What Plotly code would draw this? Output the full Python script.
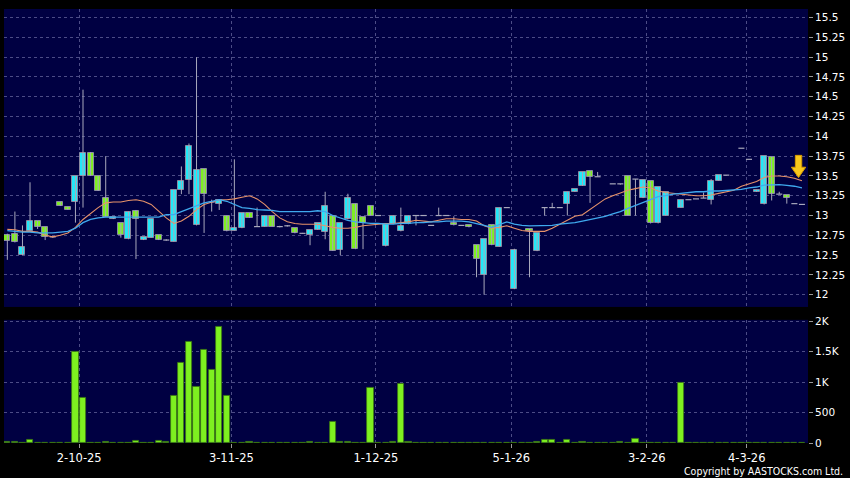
import plotly.graph_objects as go

# ---------------- data ----------------
N = 106
opens = [12.75,12.77,12.50,12.81,12.93,12.86,12.73,13.175,13.11,13.175,
         13.50,13.79,13.50,13.22,12.955,12.90,12.70,13.06,12.69,12.72,
         12.75,12.69,12.67,13.325,13.45,12.875,13.59,13.17,13.14,13.00,
         12.81,12.84,13.03,12.86,12.86,13.00,12.86,12.87,12.84,12.775,
         12.76,12.82,12.79,13.00,12.56,12.95,13.15,12.98,13.125,13.00,
         12.61,12.89,12.80,12.89,13.00,13.00,12.875,13.00,13.00,12.90,
         12.875,12.875,12.625,12.25,12.875,12.605,13.10,12.07,None,12.83,
         12.55,13.10,13.10,13.10,13.15,13.30,13.375,13.56,13.49,None,
         13.40,13.40,13.50,13.46,13.22,13.43,12.90,13.00,None,13.10,
         13.20,13.21,13.22,13.20,13.44,13.51,None,13.85,13.71,13.30,
         13.14,13.74,13.27,13.26,13.15,13.14]
closes = [12.68,12.66,12.60,12.93,12.86,12.73,12.73,13.12,13.075,13.50,
          13.79,13.50,13.31,12.98,12.98,12.75,13.05,12.95,12.73,12.95,
          12.69,12.69,13.325,13.44,13.875,13.575,13.27,13.17,13.19,12.80,
          12.84,13.03,12.97,12.86,13.00,12.86,12.86,12.87,12.775,12.775,
          12.82,12.90,13.125,12.555,12.90,13.22,12.575,12.90,13.00,13.00,
          12.89,13.00,12.87,13.00,13.00,13.00,12.875,13.00,13.00,12.875,
          12.875,12.85,12.45,12.70,12.625,13.10,13.10,12.56,None,12.80,
          12.78,13.10,13.10,13.10,13.30,13.33,13.55,13.49,13.49,None,
          13.40,13.40,13.00,13.46,13.45,12.90,13.36,13.30,None,13.20,
          13.20,13.21,13.22,13.44,13.51,13.51,None,13.85,13.71,13.325,
          13.75,13.27,13.27,13.22,13.15,13.14]
highs = [12.77,13.05,12.875,13.42,12.93,12.86,12.74,13.175,13.11,13.50,
         14.59,13.80,13.50,13.75,12.98,12.90,13.05,13.07,12.73,12.95,
         12.75,12.70,13.325,13.62,13.91,15.00,13.59,13.20,13.19,13.00,
         13.71,13.03,13.03,13.10,13.00,13.00,12.87,12.88,12.84,12.78,
         12.82,12.90,13.30,13.00,12.90,13.275,13.15,12.98,13.125,13.00,
         12.89,13.00,13.10,13.00,13.00,13.00,12.88,13.10,13.00,12.99,
         12.88,12.875,12.625,12.70,12.875,13.10,13.10,12.58,None,12.83,
         12.78,13.10,13.16,13.10,13.30,13.33,13.55,13.56,13.55,None,
         13.40,13.40,13.50,13.46,13.45,13.43,13.36,13.30,None,13.20,
         13.20,13.21,13.29,13.46,13.51,13.51,None,13.85,13.71,13.325,
         13.75,13.74,13.30,13.26,13.15,13.14]
lows = [12.44,12.66,12.50,12.81,12.83,12.69,12.72,13.12,13.075,12.91,
        13.10,13.50,13.31,12.98,12.955,12.72,12.70,12.45,12.69,12.72,
        12.69,12.68,12.67,13.27,13.27,12.875,12.78,13.05,13.07,12.80,
        12.81,12.84,12.97,12.86,12.86,12.86,12.85,12.86,12.775,12.77,
        12.625,12.82,12.70,12.555,12.50,12.95,12.575,12.575,13.00,13.00,
        12.61,12.89,12.80,12.89,12.875,13.00,12.87,13.00,13.00,12.875,
        12.87,12.85,12.22,12.00,12.625,12.605,13.10,12.07,None,12.22,
        12.55,13.00,13.10,13.10,13.00,13.30,13.375,13.16,13.49,None,
        13.40,13.39,13.00,13.00,13.22,12.90,12.90,13.00,None,13.10,
        13.20,13.21,13.22,13.14,13.44,13.51,None,13.85,13.71,13.30,
        13.14,13.19,13.27,13.15,13.15,13.14]
volumes = [15,15,10,48,0,0,0,0,0,1500,
           747,10,0,15,0,0,10,38,0,0,
           38,15,780,1312,1667,920,1522,1204,1909,780,
           0,0,15,0,0,0,0,0,0,0,
           15,0,0,350,27,20,0,0,908,0,
           0,20,968,15,0,0,8,0,0,8,
           0,0,8,0,0,0,0,0,0,0,
           15,60,48,0,48,0,15,0,0,0,
           0,15,0,70,0,0,0,10,0,995,
           0,0,0,5,0,0,0,0,5,0,
           0,0,5,0,0,0]
ma_short = [12.825,12.82,12.80,12.80,12.79,12.75,12.73,12.75,12.78,12.85,
            12.95,13.03,13.10,13.16,13.17,13.17,13.19,13.20,13.18,13.14,
            13.05,12.97,12.90,12.93,12.99,13.075,13.14,13.17,13.20,13.20,
            13.21,13.23,13.25,13.21,13.14,13.05,12.97,12.92,12.90,12.89,
            12.89,12.89,12.87,12.85,12.84,12.84,12.85,12.87,12.88,12.89,
            12.90,12.90,12.91,12.92,12.94,12.93,12.92,12.94,12.96,12.96,
            12.95,12.95,12.93,12.87,12.84,12.85,12.87,12.84,12.81,12.80,
            12.80,12.80,12.84,12.89,12.94,12.99,13.01,13.075,13.15,13.21,
            13.25,13.29,13.32,13.34,13.36,13.35,13.31,13.29,13.28,13.27,
            13.26,13.25,13.25,13.26,13.28,13.30,13.32,13.37,13.40,13.43,
            13.48,13.50,13.50,13.49,13.47,13.44]
ma_long = [12.81,12.80,12.79,12.79,12.78,12.78,12.78,12.79,12.80,12.84,
           12.91,12.95,12.97,12.98,12.98,12.98,12.98,12.98,12.985,12.985,
           12.98,13.01,13.01,13.05,13.09,13.13,13.16,13.18,13.20,13.18,
           13.14,13.10,13.09,13.075,13.07,13.065,13.05,13.05,13.05,13.05,
           13.05,13.06,13.05,13.00,12.97,12.94,12.92,12.91,12.90,12.90,
           12.89,12.89,12.90,12.90,12.91,12.91,12.92,12.92,12.93,12.93,
           12.93,12.92,12.90,12.875,12.85,12.89,12.92,12.89,12.875,12.87,
           12.87,12.875,12.875,12.89,12.90,12.91,12.93,12.95,12.97,12.99,
           13.02,13.05,13.09,13.13,13.17,13.21,13.24,13.25,13.27,13.28,
           13.29,13.30,13.30,13.31,13.31,13.315,13.32,13.33,13.35,13.36,
           13.385,13.39,13.39,13.38,13.37,13.35]
date_ticks = [9.5, 29.6, 48.7, 66.6, 84.5, 97.7]
date_labels = ["2-10-25", "3-11-25", "1-12-25", "5-1-26", "3-2-26", "4-3-26"]
price_ticks = [12 + 0.25 * k for k in range(15)]
price_labels = ["12", "12.25", "12.5", "12.75", "13", "13.25", "13.5", "13.75",
                "14", "14.25", "14.5", "14.75", "15", "15.25", "15.5"]
vol_ticks = [0, 500, 1000, 1500, 2000]
vol_labels = ["0", "500", "1K", "1.5K", "2K"]

# ---------------- styling ----------------
BG = "#000000"
PLOT_BG = "#000042"
GRID = "#4c4c86"
CYAN = "#22e8f8"
GREEN = "#7ef020"
EDGE = "#8a8aa0"
WICK = "#a8a8bc"
FONT = "DejaVu Sans"
BODY_W = 0.8

idx = [i for i in range(N) if opens[i] is not None]
body_idx = [i for i in idx if opens[i] != closes[i]]
doji_idx = [i for i in idx if opens[i] == closes[i]]

# wicks (high-low lines)
wx, wy = [], []
for i in idx:
    wx += [i, i, None]
    wy += [lows[i], highs[i], None]
# doji dashes (open == close)
dx, dy = [], []
for i in doji_idx:
    dx += [i - BODY_W / 2, i + BODY_W / 2, None]
    dy += [opens[i], closes[i], None]

fig = go.Figure()
fig.add_trace(go.Scatter(x=wx, y=wy, mode="lines", line=dict(color=WICK, width=1),
                         xaxis="x", yaxis="y", hoverinfo="skip", showlegend=False))
fig.add_trace(go.Bar(
    x=body_idx,
    base=[min(opens[i], closes[i]) for i in body_idx],
    y=[abs(closes[i] - opens[i]) for i in body_idx],
    width=BODY_W,
    marker=dict(color=[CYAN if closes[i] > opens[i] else GREEN for i in body_idx],
                line=dict(color=EDGE, width=1)),
    xaxis="x", yaxis="y", hoverinfo="skip", showlegend=False))
fig.add_trace(go.Scatter(x=dx, y=dy, mode="lines", line=dict(color=WICK, width=1.2),
                         xaxis="x", yaxis="y", hoverinfo="skip", showlegend=False))
fig.add_trace(go.Scatter(x=list(range(N)), y=ma_short, mode="lines",
                         line=dict(color="#e8936a", width=1.1), xaxis="x", yaxis="y",
                         hoverinfo="skip", showlegend=False))
fig.add_trace(go.Scatter(x=list(range(N)), y=ma_long, mode="lines",
                         line=dict(color="#3fa9ee", width=1.3), xaxis="x", yaxis="y",
                         hoverinfo="skip", showlegend=False))
fig.add_trace(go.Bar(x=list(range(N)), y=volumes, marker=dict(color=GREEN,
                     line=dict(color="#3c7a10", width=0.8)), width=0.82,
                     xaxis="x2", yaxis="y2", hoverinfo="skip", showlegend=False))

# yellow down arrow marker (annotation glyph)
AX, ATOP, AMID, ATIP, SHAFT, HEAD = 104.55, 13.76, 13.61, 13.48, 0.42, 0.95
path = (f"M {AX-SHAFT},{ATOP} L {AX+SHAFT},{ATOP} L {AX+SHAFT},{AMID} "
        f"L {AX+HEAD},{AMID} L {AX},{ATIP} L {AX-HEAD},{AMID} L {AX-SHAFT},{AMID} Z")
fig.add_shape(type="path", path=path, xref="x", yref="y",
              fillcolor="#f8c81c", line=dict(color="#d89a00", width=1))

XR = [-0.44, 105.8]
axis_common = dict(showline=False, zeroline=False, gridcolor=GRID, gridwidth=1,
                   griddash="3px,3px")
fig.update_layout(
    width=850, height=478,
    paper_bgcolor=BG, plot_bgcolor=PLOT_BG,
    margin=dict(l=4, r=42, t=6, b=35),
    bargap=0, barmode="overlay",
    xaxis=dict(domain=[0, 1], range=XR, anchor="y", tickvals=date_ticks,
               showticklabels=False, ticks="", **axis_common),
    yaxis=dict(domain=[0.3135, 1], range=[11.845, 15.609], side="right",
               tickvals=price_ticks, ticktext=price_labels, ticks="outside",
               ticklen=4, tickcolor="#9a9a9a",
               tickfont=dict(family=FONT, size=10.5, color="#ffffff"),
               **axis_common),
    xaxis2=dict(domain=[0, 1], range=XR, anchor="y2", tickvals=date_ticks,
                ticktext=date_labels, ticks="outside", ticklen=4,
                tickcolor="#9a9a9a",
                tickfont=dict(family=FONT, size=11.5, color="#ffffff"),
                **axis_common),
    yaxis2=dict(domain=[0, 0.2838], range=[0, 2020], side="right",
                tickvals=vol_ticks, ticktext=vol_labels, ticks="outside",
                ticklen=4, tickcolor="#9a9a9a",
                tickfont=dict(family=FONT, size=10.5, color="#ffffff"),
                **axis_common),
    annotations=[dict(text="Copyright by AASTOCKS.com Ltd.", xref="paper",
                      yref="paper", x=1.0456, y=-0.064, xanchor="right",
                      yanchor="middle", showarrow=False,
                      font=dict(family="DejaVu Sans Condensed", size=10.5,
                                color="#ffffff"))],
)

fig.write_html("out.html", config={"displayModeBar": False},
               post_script="document.body.style.margin='0';"
                           "document.body.style.background='#000';")
